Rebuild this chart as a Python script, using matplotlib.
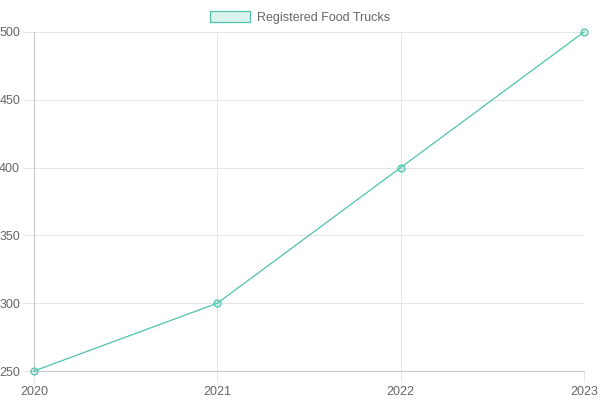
import matplotlib
matplotlib.use("Agg")
import matplotlib.pyplot as plt
from matplotlib.patches import Patch

years = ["2020", "2021", "2022", "2023"]
trucks = [250, 300, 400, 500]
y_ticks = [250, 300, 350, 400, 450, 500]

plt.rcParams['font.family'] = ['Liberation Sans', 'DejaVu Sans']

line_color = '#4fc3ad'
fill_color = (79/255, 195/255, 173/255, 0.2)
grid_color = '#e5e5e5'
axis_color = '#c8c8c8'

fig = plt.figure(figsize=(6, 4), dpi=100)
ax = fig.add_axes([34/600, 29/400, 550/600, 339/400])
x = list(range(len(years)))
ax.plot(x, trucks, color=line_color, linewidth=0.9, marker='o', markersize=5,
        markerfacecolor=fill_color, markeredgecolor=line_color, markeredgewidth=0.9,
        clip_on=False, zorder=3)
ax.set_xlim(0, len(years) - 1)
ax.set_ylim(250, 500)
ax.set_xticks(x)
ax.set_xticklabels(years)
ax.set_yticks(y_ticks)
ax.set_axisbelow(True)
ax.tick_params(axis='both', labelcolor='#666666', labelsize=9, length=8, width=0.75,
               color=grid_color, pad=2)
ax.tick_params(axis='x', pad=3)
ax.grid(True, color=grid_color, linewidth=0.75)
for s in ax.spines.values():
    s.set_visible(False)
ax.spines['left'].set_visible(True)
ax.spines['bottom'].set_visible(True)
ax.spines['left'].set_color(axis_color)
ax.spines['bottom'].set_color(axis_color)
ax.spines['left'].set_linewidth(0.75)
ax.spines['bottom'].set_linewidth(0.75)

handle = Patch(facecolor=fill_color, edgecolor=line_color, linewidth=0.9)
fig.legend([handle], ["Registered Food Trucks"], loc='upper center',
           bbox_to_anchor=(0.5, 1.0), frameon=False, fontsize=9,
           labelcolor='#666666', handlelength=3.2, handleheight=0.9,
           handletextpad=0.5)
fig.savefig("out.png", dpi=100)
